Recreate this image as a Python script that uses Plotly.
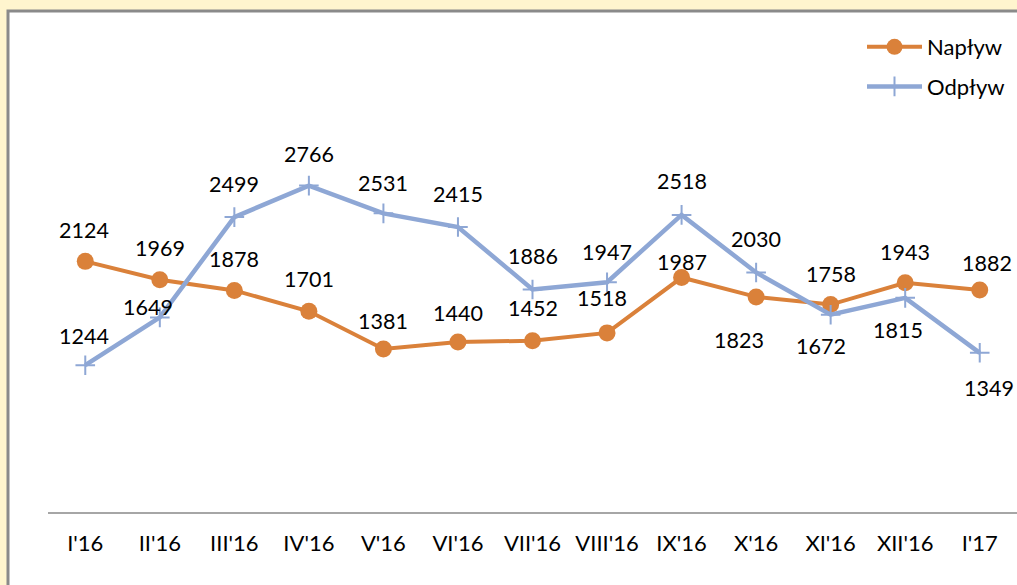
import plotly.graph_objects as go

categories = ["I'16", "II'16", "III'16", "IV'16", "V'16", "VI'16", "VII'16",
              "VIII'16", "IX'16", "X'16", "XI'16", "XII'16", "I'17"]
naplyw = [2124, 1969, 1878, 1701, 1381, 1440, 1452, 1518, 1987, 1823, 1758, 1943, 1882]
odplyw = [1244, 1649, 2499, 2766, 2531, 2415, 1886, 1947, 2518, 2030, 1672, 1815, 1349]

# label offsets in pixels (dx, dy) relative to each point
nap_dx = [-1, 0, 0, 0, 0, 0, 0, -5, 0, -17, 0, 0, 7]
nap_dy = [31, 32, 31, 32, 28, 29, 33, 35, 16, -43, 31, 31, 27]
odp_dx = [-1, -12, 0, 0, 0, 0, 0, 0, 0, 0, -10, -7, 9]
odp_dy = [29, 10, 33, 32, 30, 33, 33, 30, 34, 33, -31, -32, -35]

ORANGE = "#DA813A"
BLUE = "#8EA7D5"
FONT = "Lato"

fig = go.Figure()
fig.add_trace(go.Scatter(
    x=categories, y=naplyw, name="Napływ", mode="lines+markers",
    line=dict(color=ORANGE, width=4),
    marker=dict(symbol="circle", size=17, color=ORANGE),
    legendgroup="a", hoverinfo="skip"))
fig.add_trace(go.Scatter(
    x=categories, y=odplyw, name="Odpływ", mode="lines+markers",
    line=dict(color=BLUE, width=4.5),
    marker=dict(symbol="cross-thin", size=14, color=BLUE,
                line=dict(color=BLUE, width=2)),
    legendgroup="b", hoverinfo="skip"))

annotations = []
for c, v, dx, dy in zip(categories, naplyw, nap_dx, nap_dy):
    annotations.append(dict(x=c, y=v, xref="x", yref="y", text=str(v),
                            showarrow=False, xshift=dx, yshift=dy,
                            font=dict(family=FONT, size=21.5, color="#000000")))
for c, v, dx, dy in zip(categories, odplyw, odp_dx, odp_dy):
    annotations.append(dict(x=c, y=v, xref="x", yref="y", text=str(v),
                            showarrow=False, xshift=dx, yshift=dy,
                            font=dict(family=FONT, size=21.5, color="#000000")))

W, H = 1017, 585
L, R, T, B = 48, 0, 99, 73
pw, ph = W - L - R, H - T - B

def px_to_paper_x(px):
    return (px - L) / pw

def px_to_paper_y(py):
    return (H - B - py) / ph

shapes = [dict(type="rect", xref="paper", yref="paper", layer="below",
               x0=px_to_paper_x(8), x1=1.3, y0=-0.5, y1=px_to_paper_y(11),
               fillcolor="white", line=dict(color="#8A8A8A", width=3))]

fig.update_layout(
    width=W, height=H,
    margin=dict(l=L, r=R, t=T, b=B),
    paper_bgcolor="#FFF5CE",
    plot_bgcolor="rgba(0,0,0,0)",
    font=dict(family=FONT, size=20, color="#000000"),
    showlegend=True,
    legend=dict(x=px_to_paper_x(862), y=px_to_paper_y(26), xanchor="left", yanchor="top",
                bgcolor="rgba(0,0,0,0)", font=dict(family=FONT, size=22, color="#000000"),
                tracegroupgap=8, itemwidth=55, traceorder="grouped"),
    xaxis=dict(type="category", range=[-0.5, len(categories) - 0.5],
               showline=True, linecolor="#A6A6A6", linewidth=2,
               showgrid=False, zeroline=False, ticks="",
               ticklabelstandoff=11,
               tickfont=dict(family=FONT, size=22, color="#000000")),
    yaxis=dict(range=[0, 3500], visible=False, showgrid=False, zeroline=False),
    annotations=annotations,
    shapes=shapes,
    hovermode=False,
)

post = ("document.body.style.margin='0';document.body.style.padding='0';"
        "document.body.style.overflow='hidden';"
        "document.documentElement.style.overflow='hidden';")
fig.write_html("out.html", post_script=post, config={"displayModeBar": False})
